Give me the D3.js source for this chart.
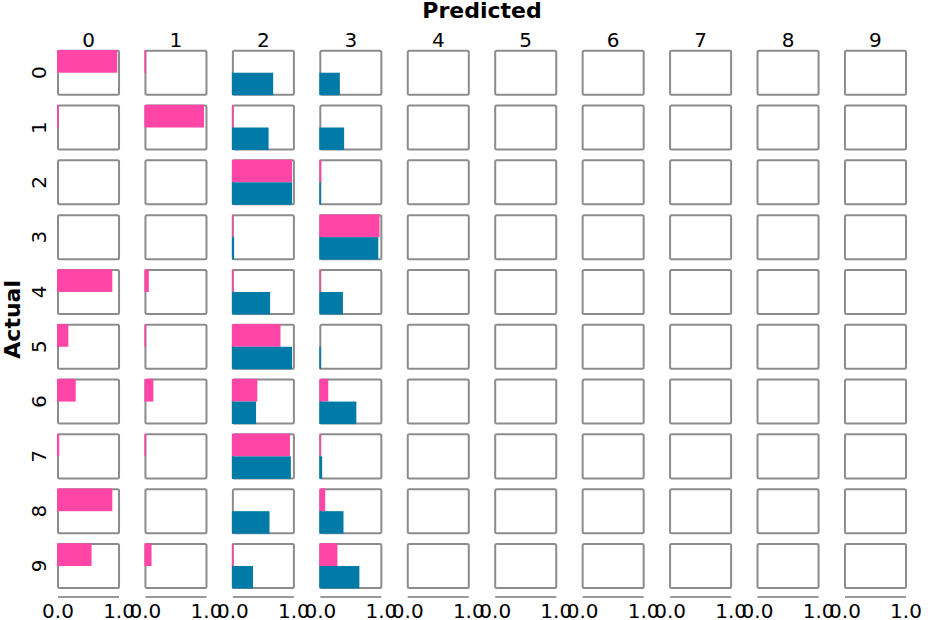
<!DOCTYPE html>
<html>
<head>
<meta charset="utf-8">
<script src="https://cdn.jsdelivr.net/npm/d3@7"></script>
<style>
  html, body { margin: 0; padding: 0; background: #fff; }
  svg { display: block; font-family: "DejaVu Sans", sans-serif; }
</style>
</head>
<body>
<svg id="chart" width="934" height="620"></svg>
<script>
// ---- data ----
const predicted = ["0","1","2","3","4","5","6","7","8","9"];
const actual    = ["0","1","2","3","4","5","6","7","8","9"];
const xTickLabels = ["0.0", "1.0"];
const seriesNames = ["pink", "blue"];

// pink (upper bar) values: rows = actual, columns = predicted
const pinkValues = [
  [0.97, 0.01, 0,    0,     0,0,0,0,0,0],
  [0.01, 0.96, 0.01, 0,     0,0,0,0,0,0],
  [0,    0,    0.97, 0.015, 0,0,0,0,0,0],
  [0,    0,    0.005,0.97,  0,0,0,0,0,0],
  [0.89, 0.055,0.01, 0.005, 0,0,0,0,0,0],
  [0.17, 0.01, 0.78, 0,     0,0,0,0,0,0],
  [0.29, 0.13, 0.40, 0.13,  0,0,0,0,0,0],
  [0.02, 0.01, 0.935,0.01,  0,0,0,0,0,0],
  [0.89, 0,    0,    0.08,  0,0,0,0,0,0],
  [0.55, 0.10, 0.01, 0.28,  0,0,0,0,0,0]
];
// blue (lower bar) values
const blueValues = [
  [0,    0,    0.66, 0.32,  0,0,0,0,0,0],
  [0,    0,    0.585,0.39,  0,0,0,0,0,0],
  [0,    0,    0.97, 0.01,  0,0,0,0,0,0],
  [0,    0,    0.02, 0.95,  0,0,0,0,0,0],
  [0,    0,    0.61, 0.37,  0,0,0,0,0,0],
  [0,    0,    0.97, 0.01,  0,0,0,0,0,0],
  [0,    0,    0.38, 0.59,  0,0,0,0,0,0],
  [0,    0,    0.95, 0.03,  0,0,0,0,0,0],
  [0,    0,    0.60, 0.38,  0,0,0,0,0,0],
  [0,    0,    0.33, 0.64,  0,0,0,0,0,0]
];

// ---- drawing ----
const colors = { pink: "#ff45a6", blue: "#007ba7" };
const frameColor = "#8c8c8c";

const svg = d3.select("#chart");

const colScale = d3.scaleBand().domain(predicted).range([58, 906]).paddingInner(0.302).paddingOuter(0);
const rowScale = d3.scaleBand().domain(actual).range([50.7, 588]).paddingInner(0.197).paddingOuter(0);
const bw = colScale.bandwidth();
const bh = rowScale.bandwidth();

const valScale = d3.scaleLinear().domain([0, 1]).range([0, bw]);
const seriesScale = d3.scaleBand().domain(seriesNames).range([0, bh]).padding(0);

const cells = [];
actual.forEach((a, i) => {
  predicted.forEach((p, j) => {
    cells.push({ a, p, pink: pinkValues[i][j], blue: blueValues[i][j] });
  });
});

const g = svg.append("g");
const cell = g.selectAll("g.cell").data(cells).join("g")
  .attr("class", "cell")
  .attr("transform", d => `translate(${colScale(d.p)},${rowScale(d.a)})`);

cell.append("rect")
  .attr("x", 0).attr("y", 0)
  .attr("width", bw).attr("height", bh)
  .attr("rx", 1.5)
  .attr("fill", "#fff")
  .attr("stroke", frameColor)
  .attr("stroke-width", 2);

cell.selectAll("rect.bar")
  .data(d => seriesNames.map(s => ({ s, v: d[s] })).filter(e => e.v > 0))
  .join("rect")
  .attr("class", "bar")
  .attr("x", valScale(0) - 1)
  .attr("y", e => seriesScale(e.s) - (e.s === "pink" ? 0.7 : 0))
  .attr("width", e => valScale(e.v) - valScale(0) + 1)
  .attr("height", e => seriesScale.bandwidth() + (e.s === "pink" ? 0.7 : 0.5))
  .attr("fill", e => colors[e.s]);

// column labels
svg.append("g").selectAll("text").data(predicted).join("text")
  .attr("x", d => colScale(d) + bw / 2)
  .attr("y", 47)
  .attr("text-anchor", "middle")
  .attr("font-size", 20)
  .attr("fill", "#000")
  .text(d => d);

// row labels (rotated)
svg.append("g").selectAll("text").data(actual).join("text")
  .attr("transform", d => `translate(46,${rowScale(d) + bh / 2}) rotate(-90)`)
  .attr("text-anchor", "middle")
  .attr("font-size", 20)
  .attr("fill", "#000")
  .text(d => d);

// bottom axes
const axisG = svg.append("g").selectAll("g").data(predicted).join("g")
  .attr("transform", d => `translate(${colScale(d)},597)`);
axisG.append("line")
  .attr("x1", valScale(0)).attr("x2", valScale(1))
  .attr("stroke", "#9a9a9a").attr("stroke-width", 2);
axisG.selectAll("text").data(xTickLabels).join("text")
  .attr("x", (t, i) => valScale(i))
  .attr("y", 21)
  .attr("text-anchor", "middle")
  .attr("font-size", 20)
  .attr("fill", "#000")
  .text(t => t);

// titles
svg.append("text")
  .attr("x", 482).attr("y", 18)
  .attr("text-anchor", "middle")
  .attr("font-size", 22)
  .attr("font-weight", "bold")
  .text("Predicted");

svg.append("text")
  .attr("transform", `translate(20,${(50.7 + 588) / 2}) rotate(-90)`)
  .attr("text-anchor", "middle")
  .attr("font-size", 22)
  .attr("font-weight", "bold")
  .text("Actual");
</script>
</body>
</html>
